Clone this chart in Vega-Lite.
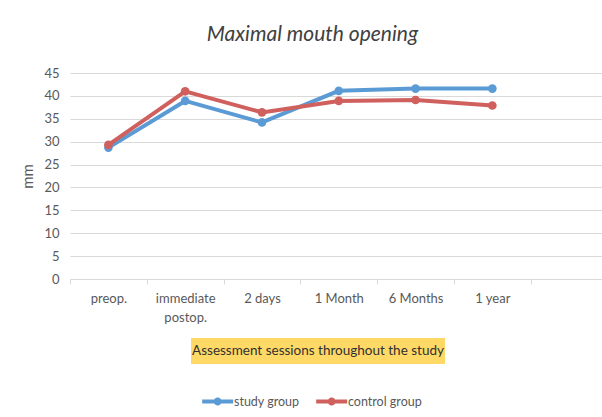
{
  "$schema": "https://vega.github.io/schema/vega-lite/v6.json",
  "background": "white",
  "padding": {"left": 20, "top": 24, "right": 0, "bottom": 8},
  "title": {"text": "Maximal mouth opening", "font": "Lato", "fontSize": 21, "fontStyle": "italic", "fontWeight": "normal", "color": "#404040", "anchor": "middle", "offset": 22},
  "datasets": {
    "mmo": [
      {"session": "preop.", "group": "study group", "mm": 28.7},
      {"session": "immediate postop.", "group": "study group", "mm": 38.9},
      {"session": "2 days", "group": "study group", "mm": 34.2},
      {"session": "1 Month", "group": "study group", "mm": 41.1},
      {"session": "6 Months", "group": "study group", "mm": 41.6},
      {"session": "1 year", "group": "study group", "mm": 41.6},
      {"session": "preop.", "group": "control group", "mm": 29.3},
      {"session": "immediate postop.", "group": "control group", "mm": 41.0},
      {"session": "2 days", "group": "control group", "mm": 36.4},
      {"session": "1 Month", "group": "control group", "mm": 38.9},
      {"session": "6 Months", "group": "control group", "mm": 39.1},
      {"session": "1 year", "group": "control group", "mm": 37.9}
    ]
  },
  "vconcat": [
    {
      "width": 534,
      "height": 206,
      "data": {"name": "mmo"},
      "mark": {"type": "line", "strokeWidth": 4, "point": {"filled": true, "size": 75, "opacity": 1}},
      "encoding": {
        "x": {
          "field": "session", "type": "nominal", "bandPosition": 0.5,
          "sort": ["preop.", "immediate postop.", "2 days", "1 Month", "6 Months", "1 year"],
          "scale": {"type": "band", "paddingInner": 0, "paddingOuter": 0.477, "align": 0},
          "axis": {
            "title": null, "labelAngle": 0, "tickBand": "extent", "grid": false,
            "domainColor": "#d9d9d9", "tickColor": "#d9d9d9", "tickSize": 5,
            "labelFont": "Lato", "labelFontSize": 13, "labelColor": "#595959", "labelPadding": 8,
            "labelLineHeight": 19,
            "labelExpr": "datum.label == 'immediate postop.' ? ['immediate', 'postop.'] : datum.label"
          }
        },
        "y": {
          "field": "mm", "type": "quantitative",
          "scale": {"domain": [0, 45]},
          "axis": {
            "title": "mm", "values": [0, 5, 10, 15, 20, 25, 30, 35, 40, 45],
            "grid": true, "gridColor": "#d9d9d9", "domain": false, "ticks": false,
            "labelFont": "Lato", "labelFontSize": 13, "labelColor": "#595959", "labelPadding": 11,
            "titleFont": "Lato", "titleFontSize": 15, "titleFontWeight": "normal", "titleColor": "#595959", "titlePadding": 8
          }
        },
        "color": {
          "field": "group", "type": "nominal",
          "scale": {"domain": ["study group", "control group"], "range": ["#5B9BD5", "#D0605E"]},
          "legend": {
            "orient": "bottom", "direction": "horizontal", "title": null,
            "symbolType": "M-1,-0.19L2,-0.19L2,0.19L-1,0.19Z M0.89,0A0.39,0.39,0,1,1,0.11,0A0.39,0.39,0,1,1,0.89,0Z",
            "symbolSize": 427, "symbolStrokeWidth": 0,
            "labelFont": "Lato", "labelFontSize": 12.5, "labelColor": "#595959", "labelOffset": 11,
            "columnPadding": 16, "offset": 27,
            "encode": {"symbols": {"update": {"fill": {"scale": "color", "field": "value"}, "stroke": {"value": "transparent"}, "fillOpacity": {"value": 1}, "opacity": {"value": 1}}}}
          }
        }
      }
    },
    {
      "hconcat": [
        {
          "width": 111,
          "height": 26,
          "data": {"values": [{"t": ""}]},
          "mark": {"type": "text"},
          "encoding": {"text": {"field": "t", "type": "nominal"}}
        },
        {
          "width": 254,
          "height": 26,
          "view": {"fill": "#FFD966", "stroke": null},
          "data": {"values": [{"t": "Assessment sessions throughout the study"}]},
          "mark": {"type": "text", "font": "Lato", "fontSize": 13.5, "color": "#303030"},
          "encoding": {"text": {"field": "t", "type": "nominal"}}
        }
      ],
      "spacing": 10
    }
  ],
  "spacing": 14,
  "resolve": {"scale": {"color": "shared"}, "legend": {"color": "shared"}},
  "config": {
    "view": {"stroke": null},
    "font": "Lato",
    "legend": {"layout": {"anchor": "middle", "bottom": {"anchor": "middle"}}}
  }
}
